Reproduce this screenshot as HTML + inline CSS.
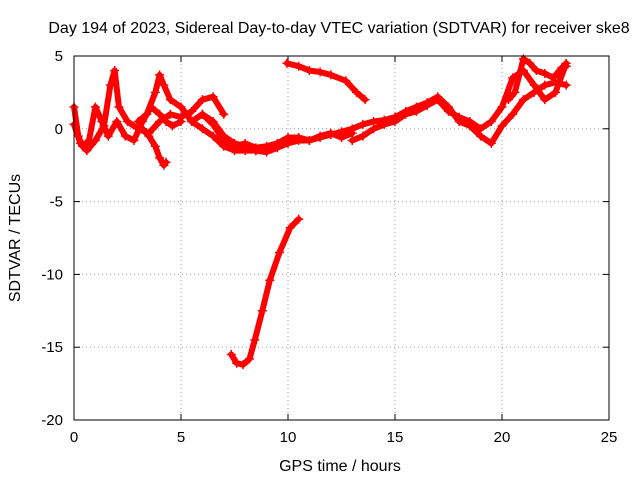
<!DOCTYPE html>
<html><head><meta charset="utf-8"><style>
body{margin:0;background:#fff}
svg text{font-family:"Liberation Sans",sans-serif;font-size:15px;fill:#000}
svg text.big{font-size:16px}
</style></head><body>
<svg id="chart" width="640" height="480" xmlns="http://www.w3.org/2000/svg">
<rect width="640" height="480" fill="#fff"/>
<text class="big" x="339" y="33" text-anchor="middle">Day 194 of 2023, Sidereal Day-to-day VTEC variation (SDTVAR) for receiver ske8</text>
<text class="big" x="340" y="471" text-anchor="middle">GPS time / hours</text>
<text class="big" transform="translate(20,238) rotate(-90)" text-anchor="middle">SDTVAR / TECUs</text>
<g id="grid"></g><g id="ticks"></g><g id="marks"></g>
<rect x="74" y="56" width="535" height="364" fill="none" stroke="#000" stroke-width="1"/>
</svg>
<script>
const xTicks=[0,5,10,15,20,25];
const yTicks=[5,0,-5,-10,-15,-20];
const s1x=[0,0.2,0.4,0.7,1.0,1.3,1.6,2.0,2.4,2.8,3.2,3.6,4.0,4.3,4.6,5.0];
const s1y=[1.5,-0.5,-1.2,-0.8,1.5,0.5,-0.5,0.5,-0.5,-0.8,0.5,1.5,1.0,0.5,0.2,0.5];
const s2x=[0,0.3,0.6,1.0,1.4,1.7,1.9,2.1,2.5,3.0,3.5,4.0,4.5,5.0,5.5,6.0,6.5,7.0];
const s2y=[0.3,-1.0,-1.5,-0.8,0.2,3.0,4.0,1.5,0.5,0,-0.3,0.5,1.0,0.8,1.2,2.0,2.2,1.0];
const s3x=[3.0,3.4,3.8,4.0,4.2,4.5,5.0,5.5,6.0,6.5,7.0,7.5,8.0,8.5];
const s3y=[0.5,1.0,2.5,3.7,3.0,2.0,1.5,0.5,1.0,0.5,-0.5,-1.0,-1.2,-1.5];
const s4x=[3.2,3.5,3.8,4.0,4.2,4.3];
const s4y=[0,-0.5,-1.2,-2.0,-2.5,-2.3];
const s5x=[5.5,6.0,6.5,7.0,7.5,8.0,8.5,9.0,9.5,10.0,10.5,11.0,11.5,12.0,12.5,13.0,13.5,14.0,14.5,15.0,15.5,16.0,16.5,17.0,17.5,18.0,18.5,19.0,19.5,20.0,20.5,21.0,21.5,22.0,22.5,23.0];
const s5y=[0.5,0,-0.5,-1.2,-1.5,-1.5,-1.5,-1.6,-1.3,-1.0,-0.8,-0.8,-0.6,-0.4,-0.2,0.0,0.3,0.5,0.6,0.8,1.2,1.5,1.8,2.2,1.5,0.5,0.2,-0.5,-1.0,0.2,1.0,2.0,2.5,3.0,3.2,3.0];
const s6x=[13,13.5,14,14.5,15,15.5,16,16.5,17,17.5,18,18.5,19,19.5,20,20.5,21,21.5,22,22.5,23];
const s6y=[-0.8,-0.5,0,0.3,0.5,1.0,1.2,1.6,2.0,1.2,0.8,0.5,0.0,0.5,1.5,3.5,4.0,3.0,2.0,2.5,4.5];
const s7x=[20.3,20.6,21,21.3,21.6,22,22.4,22.8,23];
const s7y=[2.0,2.5,4.8,4.5,4.0,3.8,3.5,4.2,4.3];
const s8x=[9.95,10.5,11.0,11.5,12.0,12.7,13.2,13.6];
const s8y=[4.5,4.3,4.0,3.9,3.7,3.3,2.5,2.0];
const s9x=[7.35,7.6,7.9,8.2,8.45,8.8,9.15,9.6,10.1,10.5];
const s9y=[-15.5,-16.1,-16.2,-15.8,-14.5,-12.5,-10.4,-8.5,-6.8,-6.2];
const s10x=[6.0,6.5,7.0,7.5,8.0,8.5,9.0,9.5,10.0,10.5,11.0,11.5,12.0,12.5,13.0];
const s10y=[1.0,0.3,-0.8,-1.2,-1.0,-1.3,-1.2,-1.0,-0.6,-0.6,-0.8,-0.5,-0.3,-0.6,-0.3];
const seriesX=[s1x,s2x,s3x,s4x,s5x,s6x,s7x,s8x,s9x,s10x];
const seriesY=[s1y,s2y,s3y,s4y,s5y,s6y,s7y,s8y,s9y,s10y];

const L=74,R=609,T=56,B=420;
const xs=v=>L+(v-0)/25*(R-L);
const ys=v=>T+(5-v)/25*(B-T);
const NS='http://www.w3.org/2000/svg';
function mk(tag,attrs,parent){const e=document.createElementNS(NS,tag);for(const k in attrs)e.setAttribute(k,attrs[k]);parent.appendChild(e);return e;}
const grid=document.getElementById('grid'),ticks=document.getElementById('ticks'),marks=document.getElementById('marks');
xTicks.forEach(t=>{
  const x=xs(t);
  if(t>0&&t<25){const g=mk('line',{x1:x,x2:x,y1:T,y2:B,stroke:'#a0a0a0','stroke-dasharray':'1,3'},grid);
  
  }
  mk('line',{x1:x,x2:x,y1:B,y2:B-6,stroke:'#000'},ticks);
  mk('line',{x1:x,x2:x,y1:T,y2:T+6,stroke:'#000'},ticks);
  const tx=mk('text',{x:x,y:B+22,'text-anchor':'middle'},ticks);tx.textContent=t;
  
  
});
yTicks.forEach(t=>{
  const y=ys(t);
  if(t<5&&t>-20){const g=mk('line',{x1:L,x2:R,y1:y,y2:y,stroke:'#a0a0a0','stroke-dasharray':'1,3'},grid);
  
  }
  mk('line',{x1:L,x2:L+6,y1:y,y2:y,stroke:'#000'},ticks);
  mk('line',{x1:R,x2:R-6,y1:y,y2:y,stroke:'#000'},ticks);
  const tx=mk('text',{x:L-11,y:y+5,'text-anchor':'end'},ticks);tx.textContent=t;
  
  
});
seriesX.forEach((sx,i)=>{
  const sy=seriesY[i];
  const pts=sx.map((v,j)=>xs(v)+','+ys(sy[j])).join(' ');
  const pl=mk('polyline',{points:pts,fill:'none',stroke:'#ff0000','stroke-width':6,'stroke-linejoin':'round','stroke-linecap':'round'},marks);
  
  
  sx.forEach((v,j)=>{
    const cx=xs(v),cy=ys(sy[j]);
    const p=mk('path',{d:`M${cx-4.5},${cy}H${cx+4.5}M${cx},${cy-4.5}V${cy+4.5}`,stroke:'#ff0000','stroke-width':1.5},marks);
    
    
  });
});
</script>
</body></html>
